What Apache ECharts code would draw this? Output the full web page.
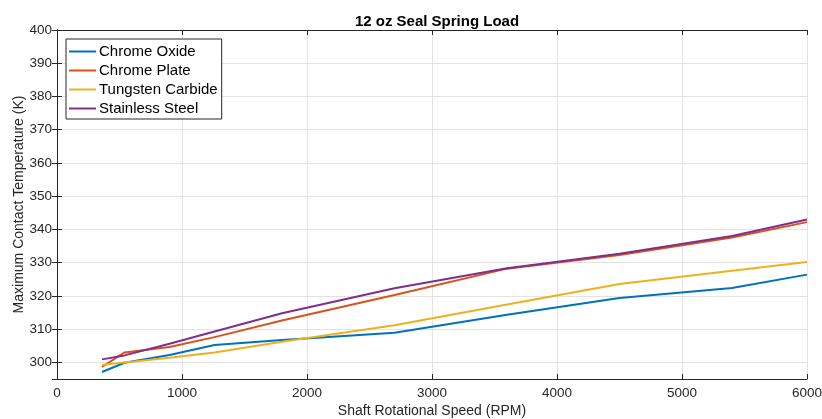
<!DOCTYPE html>
<html>
<head>
<meta charset="utf-8">
<title>12 oz Seal Spring Load</title>
<script src="https://cdn.jsdelivr.net/npm/echarts@6/dist/echarts.min.js"></script>
<style>
  html, body { margin: 0; padding: 0; background: #fff; }
  #chart { width: 822px; height: 419px; }
</style>
</head>
<body>
<div id="chart"></div>
<script>
// Shaft speeds (RPM) at which the contact temperature was evaluated
const speeds = [360, 540, 900, 1260, 1800, 2700, 3600, 4500, 5400, 6000];

// Maximum contact temperature (K) for each shaft coating
const chromeOxide      = [297.1, 299.9, 302.2, 305.2, 306.7, 308.9, 314.3, 319.4, 322.4, 326.4];
const chromePlate      = [298.6, 303.0, 304.6, 307.6, 312.6, 320.3, 328.2, 332.3, 337.6, 342.2];
const tungstenCarbide  = [299.2, 300.0, 301.4, 303.0, 306.2, 311.2, 317.4, 323.6, 327.6, 330.2];
const stainlessSteel   = [300.9, 302.1, 305.6, 309.3, 314.8, 322.3, 328.3, 332.7, 338.0, 343.0];

const seriesNames  = ['Chrome Oxide', 'Chrome Plate', 'Tungsten Carbide', 'Stainless Steel'];
const seriesValues = [chromeOxide, chromePlate, tungstenCarbide, stainlessSteel];
const seriesColors = ['#0072BD', '#D95319', '#EDB120', '#7E2F8E'];

const FONT = '"Liberation Sans", Arial, Helvetica, sans-serif';
const AXIS_COLOR = '#262626';
const GRID_COLOR = '#e3e3e3';

const pairs = vals => speeds.map((s, i) => [s, vals[i]]);

// Plain integers, no thousands separators; the 295 axis floor stays unlabelled
const xLabel = v => String(v);
const yLabel = v => (v % 10 === 0 ? String(v) : '');

const chart = echarts.init(document.getElementById('chart'), null, { renderer: 'canvas' });

chart.setOption({
  backgroundColor: '#ffffff',
  animation: false,
  textStyle: { fontFamily: FONT },
  title: {
    text: '12 oz Seal Spring Load',
    left: 432,
    textAlign: 'center',
    top: 9,
    textStyle: { fontFamily: FONT, fontSize: 15, fontWeight: 'bold', color: '#000' }
  },
  legend: {
    orient: 'vertical',
    left: 66,
    top: 39,
    padding: [4, 4, 2, 3],
    itemGap: 2,
    itemWidth: 27,
    itemHeight: 2,
    icon: 'rect',
    backgroundColor: '#ffffff',
    borderColor: AXIS_COLOR,
    borderWidth: 1,
    borderRadius: 0,
    data: seriesNames,
    textStyle: { fontFamily: FONT, fontSize: 15, lineHeight: 17, color: '#000', padding: [0, 0, 0, -2] }
  },
  grid: { left: 57, right: 15, top: 30, bottom: 40, containLabel: false, outerBoundsMode: 'none' },
  xAxis: [
    {
      type: 'value',
      min: 0,
      max: 6000,
      interval: 1000,
      position: 'bottom',
      name: 'Shaft Rotational Speed (RPM)',
      nameLocation: 'middle',
      nameGap: 25,
      nameMoveOverlap: false,
      nameTextStyle: { fontFamily: FONT, fontSize: 14, color: AXIS_COLOR },
      axisLine: { show: true, lineStyle: { color: AXIS_COLOR, width: 1 } },
      axisTick: { show: true, inside: true, length: 5, lineStyle: { color: AXIS_COLOR } },
      axisLabel: { fontFamily: FONT, fontSize: 13.5, color: AXIS_COLOR, margin: 7, formatter: xLabel },
      splitLine: { show: true, lineStyle: { color: GRID_COLOR, width: 1 } }
    },
    {
      type: 'value',
      min: 0,
      max: 6000,
      interval: 1000,
      position: 'top',
      axisLine: { show: true, lineStyle: { color: AXIS_COLOR, width: 1 } },
      axisTick: { show: true, inside: true, length: 5, lineStyle: { color: AXIS_COLOR } },
      axisLabel: { show: false },
      splitLine: { show: false }
    }
  ],
  yAxis: [
    {
      type: 'value',
      min: 295,
      max: 400,
      splitNumber: 10,
      minInterval: 10,
      maxInterval: 10,
      position: 'left',
      name: 'Maximum Contact Temperature (K)',
      nameLocation: 'middle',
      nameGap: 31,
      nameMoveOverlap: false,
      nameTextStyle: { fontFamily: FONT, fontSize: 14, color: AXIS_COLOR },
      axisLine: { show: true, lineStyle: { color: AXIS_COLOR, width: 1 } },
      axisTick: { show: true, inside: true, length: 5, lineStyle: { color: AXIS_COLOR } },
      axisLabel: { fontFamily: FONT, fontSize: 13.5, color: AXIS_COLOR, margin: 5, formatter: yLabel },
      splitLine: { show: true, lineStyle: { color: GRID_COLOR, width: 1 } }
    },
    {
      type: 'value',
      min: 295,
      max: 400,
      splitNumber: 10,
      minInterval: 10,
      maxInterval: 10,
      position: 'right',
      axisLine: { show: true, lineStyle: { color: AXIS_COLOR, width: 1 } },
      axisTick: { show: true, inside: true, length: 5, lineStyle: { color: AXIS_COLOR } },
      axisLabel: { show: false },
      splitLine: { show: false }
    }
  ],
  series: seriesNames.map((name, i) => ({
    name: name,
    type: 'line',
    xAxisIndex: 0,
    yAxisIndex: 0,
    data: pairs(seriesValues[i]),
    showSymbol: false,
    symbol: 'none',
    smooth: false,
    lineStyle: { color: seriesColors[i], width: 2 },
    itemStyle: { color: seriesColors[i] },
    z: 3 + i
  }))
});
</script>
</body>
</html>
